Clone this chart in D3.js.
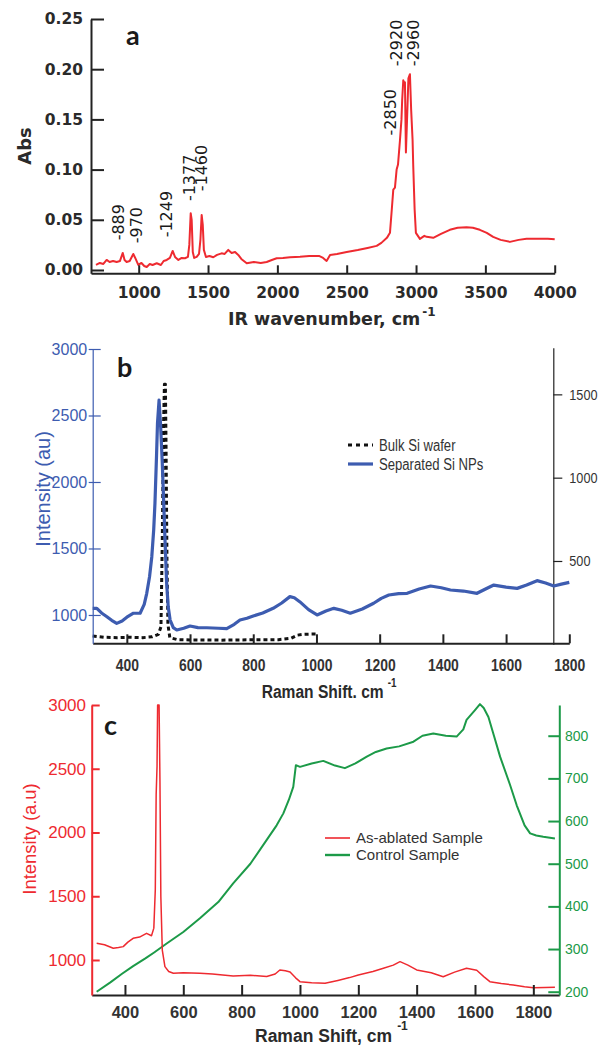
<!DOCTYPE html>
<html>
<head>
<meta charset="utf-8">
<script src="https://cdn.jsdelivr.net/npm/d3@7"></script>
<style>
  html, body { margin: 0; padding: 0; background: #fff; }
  svg { display: block; }
</style>
</head>
<body>
<svg id="fig" width="598" height="1046"></svg>
<script>
// ---------- panel a : IR absorbance ----------
const irTicksX = [1000, 1500, 2000, 2500, 3000, 3500, 4000];
const irTicksY = [0, 0.05, 0.10, 0.15, 0.20, 0.25];
const irSpectrum = [
  [692, 0.005], [720, 0.007], [745, 0.006], [769, 0.010], [790, 0.008], [815, 0.009],
  [841, 0.008], [865, 0.009], [885, 0.017], [898, 0.010], [913, 0.008], [935, 0.009],
  [961, 0.016], [975, 0.012], [997, 0.005], [1020, 0.007], [1040, 0.004], [1058, 0.003],
  [1080, 0.006], [1100, 0.005], [1130, 0.0067], [1160, 0.005], [1180, 0.009], [1202, 0.010],
  [1225, 0.012], [1245, 0.019], [1262, 0.013], [1286, 0.010], [1310, 0.012], [1334, 0.0117],
  [1355, 0.013], [1365, 0.025], [1375, 0.0565], [1382, 0.050], [1390, 0.018], [1400, 0.012],
  [1418, 0.013], [1435, 0.016], [1445, 0.030], [1454, 0.0548], [1462, 0.045], [1470, 0.020],
  [1485, 0.013], [1510, 0.014], [1538, 0.0127], [1565, 0.015], [1598, 0.0166], [1620, 0.016],
  [1646, 0.020], [1670, 0.017], [1695, 0.018], [1718, 0.015], [1740, 0.011], [1779, 0.0067],
  [1830, 0.008], [1880, 0.007], [1923, 0.008], [1960, 0.010], [1995, 0.0117], [2040, 0.012],
  [2091, 0.0127], [2130, 0.013], [2163, 0.0132], [2230, 0.014], [2300, 0.014], [2330, 0.012],
  [2355, 0.009], [2380, 0.015], [2430, 0.016], [2500, 0.018], [2580, 0.020], [2650, 0.022],
  [2716, 0.024], [2750, 0.027], [2790, 0.032], [2812, 0.037], [2825, 0.060], [2836, 0.080],
  [2848, 0.082], [2860, 0.100], [2870, 0.105], [2884, 0.129], [2895, 0.150], [2900, 0.169],
  [2908, 0.189], [2915, 0.186], [2920, 0.187], [2927, 0.117], [2935, 0.149], [2945, 0.191],
  [2956, 0.195], [2965, 0.159], [2975, 0.130], [2980, 0.103], [2990, 0.060], [2999, 0.037],
  [3028, 0.031], [3060, 0.034], [3076, 0.033], [3124, 0.032], [3180, 0.036], [3244, 0.040],
  [3300, 0.042], [3364, 0.0425], [3410, 0.042], [3460, 0.040], [3510, 0.037], [3556, 0.033],
  [3610, 0.030], [3677, 0.028], [3740, 0.030], [3797, 0.031], [3880, 0.031], [3950, 0.031],
  [4000, 0.0305]
];
// peak labels: wavenumber where the label sits and the Abs level of its lower end
const irPeakLabels = ["-889", "-970", "-1249", "-1377", "-1460", "-2850", "-2920", "-2960"];
const irPeakLabelX = [853, 986, 1202, 1365, 1449, 2812, 2860, 2980];
const irPeakLabelY = [0.0295, 0.0266, 0.0325, 0.0686, 0.0784, 0.134, 0.203, 0.203];

// ---------- panel b : Raman, Si wafer vs Si NPs ----------
const ramanTicksB = [400, 600, 800, 1000, 1200, 1400, 1600, 1800];
const bLeftTicks = [1000, 1500, 2000, 2500, 3000];
const bRightTicks = [500, 1000, 1500];
const siNPs = [
  [292, 1050], [305, 1050], [320, 1015], [337, 987], [352, 960], [368, 937], [385, 955],
  [400, 983], [421, 1013], [442, 1013], [455, 1080], [463, 1163], [472, 1290], [479, 1438],
  [485, 1640], [489, 1840], [494, 2200], [497, 2441], [502, 2615], [507, 2416], [512, 2150],
  [516, 1890], [521, 1550], [526, 1238], [531, 1060], [537, 962], [547, 905], [558, 887],
  [580, 900], [600, 917], [625, 905], [653, 904], [690, 900], [716, 898], [740, 930],
  [758, 962], [780, 975], [800, 992], [830, 1015], [863, 1050], [890, 1090], [916, 1138],
  [930, 1130], [947, 1100], [975, 1040], [1002, 1000], [1030, 1030], [1055, 1050], [1080, 1035],
  [1107, 1013], [1145, 1045], [1181, 1088], [1205, 1125], [1229, 1150], [1260, 1160], [1287, 1163],
  [1325, 1195], [1361, 1218], [1395, 1205], [1424, 1188], [1465, 1180], [1508, 1163], [1535, 1195],
  [1561, 1225], [1600, 1210], [1635, 1200], [1665, 1225], [1698, 1258], [1725, 1240], [1751, 1218],
  [1775, 1232], [1800, 1245]
];
const bulkSi = [
  [292, 50], [330, 42], [370, 40], [410, 42], [450, 40], [480, 45], [500, 60], [508, 105],
  [512, 600], [516, 1300], [519, 1560], [522, 1560], [524, 1200], [527, 500], [530, 120],
  [536, 40], [560, 28], [600, 26], [700, 25], [800, 27], [880, 28], [920, 36], [940, 55],
  [960, 60], [1000, 62]
];
const bLegend = ["Bulk Si wafer", "Separated Si NPs"];

// ---------- panel c : Raman, as-ablated vs control ----------
const ramanTicksC = [400, 600, 800, 1000, 1200, 1400, 1600, 1800];
const cLeftTicks = [1000, 1500, 2000, 2500, 3000];
const cRightTicks = [200, 300, 400, 500, 600, 700, 800];
const asAblated = [
  [303, 1131], [330, 1120], [360, 1092], [378, 1098], [394, 1105], [410, 1140], [428, 1170],
  [450, 1180], [474, 1209], [491, 1190], [499, 1250], [504, 1550], [507, 2300], [510, 2520],
  [512, 3000], [517, 3000], [520, 2400], [523, 1500], [528, 1078], [537, 948], [550, 910],
  [566, 896], [600, 900], [657, 896], [700, 890], [735, 882], [771, 875], [830, 880],
  [886, 870], [915, 890], [931, 922], [950, 915], [966, 906], [985, 860], [1000, 830],
  [1040, 822], [1086, 817], [1130, 840], [1170, 862], [1200, 882], [1250, 910], [1286, 935],
  [1320, 960], [1343, 987], [1370, 960], [1400, 922], [1450, 900], [1491, 869], [1530, 905],
  [1571, 935], [1606, 920], [1630, 870], [1651, 830], [1690, 815], [1731, 804], [1770, 790],
  [1800, 783], [1840, 785], [1874, 787]
];
const control = [
  [303, 200], [350, 222], [390, 242], [428, 260], [470, 278], [500, 292], [543, 313],
  [600, 340], [657, 372], [720, 410], [771, 454], [830, 500], [886, 556], [920, 590],
  [943, 618], [962, 650], [977, 680], [986, 731], [1000, 727], [1040, 735], [1080, 741],
  [1120, 730], [1154, 724], [1190, 735], [1229, 751], [1260, 762], [1297, 770], [1340, 775],
  [1389, 786], [1420, 800], [1457, 805], [1500, 800], [1537, 798], [1560, 815], [1571, 837],
  [1600, 860], [1617, 874], [1630, 865], [1646, 844], [1665, 800], [1686, 751], [1720, 685],
  [1743, 637], [1770, 590], [1789, 571], [1810, 566], [1834, 563], [1874, 559]
];
const cLegend = ["As-ablated Sample", "Control Sample"];

// ---------- drawing ----------
const svg = d3.select("#fig");
const SANS = "'Liberation Sans', Arial, sans-serif";
const WIDE = "'DejaVu Sans', sans-serif";
const BLUE = "#3d5cb0", RED = "#ee2a30", GREEN = "#1c9a48";
const NARROW_K = 0.82; // squeeze factor to mimic a narrow face
const intFmt = d3.format("d");

function styleAxis(g, stroke, sw, font, size, weight, fill) {
  g.attr("font-family", null).attr("font-size", null);
  g.select(".domain").attr("stroke", stroke).attr("stroke-width", sw);
  g.selectAll(".tick line").attr("stroke", stroke).attr("stroke-width", sw);
  g.selectAll(".tick text")
    .attr("fill", fill)
    .style("font-family", font)
    .style("font-size", size + "px")
    .style("font-weight", weight);
}

// squeeze text horizontally, keeping its x anchor where it was
function squeeze(sel) {
  sel.each(function () {
    const t = d3.select(this);
    const x = +t.attr("x") || 0;
    t.attr("x", x / NARROW_K).attr("transform", `scale(${NARROW_K},1)`);
  });
}

function drawLine(data, x, y, color, width, dash) {
  const line = d3.line().x(d => x(d[0])).y(d => y(d[1]));
  svg.append("path")
    .datum(data)
    .attr("fill", "none")
    .attr("stroke", color)
    .attr("stroke-width", width)
    .attr("stroke-linejoin", "round")
    .attr("stroke-dasharray", dash || null)
    .attr("d", line);
}

function panelLetter(txt, x, y) {
  svg.append("text")
    .attr("x", x).attr("y", y)
    .style("font-family", "Lato, 'Open Sans', sans-serif")
    .style("font-size", "27px")
    .style("font-weight", "bold")
    .attr("fill", "#1a1a1a")
    .text(txt);
}

function axisTitle(main, x, y, font, size, supDx, supDy) {
  const t = svg.append("text")
    .attr("x", x).attr("y", y)
    .style("font-family", font)
    .style("font-size", size + "px")
    .style("font-weight", "bold")
    .attr("fill", "#2a2a2a");
  t.append("tspan").text(main);
  t.append("tspan").attr("dx", supDx).attr("dy", supDy)
    .style("font-size", "12px").text("-1");
  return t;
}

function rotatedLabel(txt, cx, cy, font, size, color, weight) {
  svg.append("text")
    .attr("transform", `translate(${cx},${cy}) rotate(-90)`)
    .attr("text-anchor", "middle")
    .attr("dy", "0.35em")
    .style("font-family", font)
    .style("font-size", size + "px")
    .style("font-weight", weight || "normal")
    .attr("fill", color)
    .text(txt);
}

// ----- panel a -----
const xA = d3.scaleLinear().domain([656, 4000]).range([91, 554.7]);
const yA = d3.scaleLinear().domain([-0.0033, 0.25]).range([273.3, 19]);

drawLine(irSpectrum, xA, yA, RED, 2);

svg.append("g")
  .attr("transform", "translate(0,273.3)")
  .call(d3.axisBottom(xA).tickValues(irTicksX).tickFormat(intFmt)
    .tickSizeInner(-8).tickSizeOuter(0).tickPadding(13.5))
  .call(g => styleAxis(g, "#222", 2, WIDE, 15.5, "bold", "#2a2a2a"));

svg.append("g")
  .attr("transform", "translate(91,0)")
  .call(d3.axisLeft(yA).tickValues(irTicksY).tickFormat(d3.format(".2f"))
    .tickSizeInner(-13).tickSizeOuter(0).tickPadding(8))
  .call(g => styleAxis(g, "#222", 2, WIDE, 15.5, "bold", "#2a2a2a"));

irPeakLabels.forEach((lab, i) => {
  svg.append("text")
    .attr("transform", `translate(${xA(irPeakLabelX[i])},${yA(irPeakLabelY[i])}) rotate(-90)`)
    .attr("dy", "0.35em")
    .style("font-family", WIDE)
    .style("font-size", "16px")
    .attr("fill", "#1a1a1a")
    .text(lab);
});

rotatedLabel("Abs", 25, 146, WIDE, 18, "#2a2a2a", "bold");
axisTitle("IR wavenumber, cm", 228, 325, WIDE, 17.5, 2, -9);
panelLetter("a", 126, 45);

// ----- panel b -----
const xB = d3.scaleLinear().domain([292, 1800]).range([92.7, 569.3]);
const yBL = d3.scaleLinear().domain([787, 3000]).range([643.3, 349]);
const yBR = d3.scaleLinear().domain([0, 1780]).range([644.3, 347.7]);

svg.append("g")
  .attr("transform", "translate(553.3,0)")
  .call(d3.axisRight(yBR).tickValues(bRightTicks).tickFormat(intFmt)
    .tickSizeInner(9).tickSizeOuter(0).tickPadding(7))
  .call(g => styleAxis(g, "#222", 1.2, SANS, 15.5, "normal", "#333"))
  .call(g => squeeze(g.selectAll(".tick text")));

drawLine(bulkSi, xB, yBR, "#111", 3, "4,3");
drawLine(siNPs, xB, yBL, BLUE, 3.2);

svg.append("g")
  .attr("transform", "translate(0,643.3)")
  .call(d3.axisBottom(xB).tickValues(ramanTicksB).tickFormat(intFmt)
    .tickSizeInner(-9).tickSizeOuter(0).tickPadding(15.5))
  .call(g => styleAxis(g, "#222", 2, SANS, 17, "bold", "#333"))
  .call(g => squeeze(g.selectAll(".tick text")));

svg.append("g")
  .attr("transform", "translate(92.7,0)")
  .call(d3.axisLeft(yBL).tickValues(bLeftTicks).tickFormat(intFmt)
    .tickSizeInner(-8).tickSizeOuter(0).tickPadding(5.5))
  .call(g => styleAxis(g, BLUE, 1.2, SANS, 16, "normal", BLUE))
  .call(g => g.selectAll(".tick line").attr("x1", -4));

rotatedLabel("Intensity (au)", 43, 489, SANS, 20, BLUE);
squeeze(axisTitle("Raman Shift. cm", 261.7, 698, SANS, 19, 5, -11));
panelLetter("b", 117, 377);

// legend b
const legB = svg.append("g").attr("transform", "translate(348,445)");
legB.append("line").attr("x1", 0).attr("x2", 25).attr("y1", 0).attr("y2", 0)
  .attr("stroke", "#111").attr("stroke-width", 3).attr("stroke-dasharray", "4,4");
legB.append("line").attr("x1", 0).attr("x2", 25).attr("y1", 19).attr("y2", 19)
  .attr("stroke", BLUE).attr("stroke-width", 3.2);
legB.selectAll("text.lg").data(bLegend).join("text")
  .attr("class", "lg")
  .attr("x", 31).attr("y", (d, i) => i * 19)
  .attr("dy", "0.35em")
  .style("font-family", SANS).style("font-size", "16px")
  .attr("fill", "#333")
  .text(d => d)
  .call(squeeze);

// ----- panel c -----
const xC = d3.scaleLinear().domain([286, 1889]).range([91.7, 559.3]);
const yCL = d3.scaleLinear().domain([725.5, 3000]).range([995, 705]);
const yCR = d3.scaleLinear().domain([192.3, 872]).range([995, 705]);

drawLine(control, xC, yCR, GREEN, 2);
drawLine(asAblated, xC, yCL, RED, 1.5);

svg.append("g")
  .attr("transform", "translate(0,995)")
  .call(d3.axisBottom(xC).tickValues(ramanTicksC).tickFormat(intFmt)
    .tickSizeInner(-10).tickSizeOuter(0).tickPadding(11.3))
  .call(g => styleAxis(g, "#222", 2, SANS, 16.5, "bold", "#333"));

svg.append("g")
  .attr("transform", "translate(91.7,0)")
  .call(d3.axisLeft(yCL).tickValues(cLeftTicks).tickFormat(intFmt)
    .tickSizeInner(-8).tickSizeOuter(0).tickPadding(5.7))
  .call(g => styleAxis(g, RED, 2, SANS, 17, "normal", RED));

svg.append("g")
  .attr("transform", "translate(559.3,0)")
  .call(d3.axisRight(yCR).tickValues(cRightTicks).tickFormat(intFmt)
    .tickSizeInner(-11).tickSizeOuter(0).tickPadding(5.7))
  .call(g => styleAxis(g, GREEN, 2, SANS, 14, "normal", GREEN));

rotatedLabel("Intensity (a.u)", 30, 839, SANS, 18.4, RED);
axisTitle("Raman Shift, cm", 255, 1042, SANS, 17.5, 5, -12);
panelLetter("c", 104, 735);

// legend c
const legC = svg.append("g").attr("transform", "translate(325,838)");
legC.selectAll("line").data([RED, GREEN]).join("line")
  .attr("x1", 0).attr("x2", 25)
  .attr("y1", (d, i) => i * 17).attr("y2", (d, i) => i * 17)
  .attr("stroke", d => d).attr("stroke-width", (d, i) => i ? 2.4 : 1.6);
legC.selectAll("text").data(cLegend).join("text")
  .attr("x", 31).attr("y", (d, i) => i * 17)
  .attr("dy", "0.35em")
  .style("font-family", SANS).style("font-size", "15px")
  .attr("fill", "#333")
  .text(d => d);
</script>
</body>
</html>
